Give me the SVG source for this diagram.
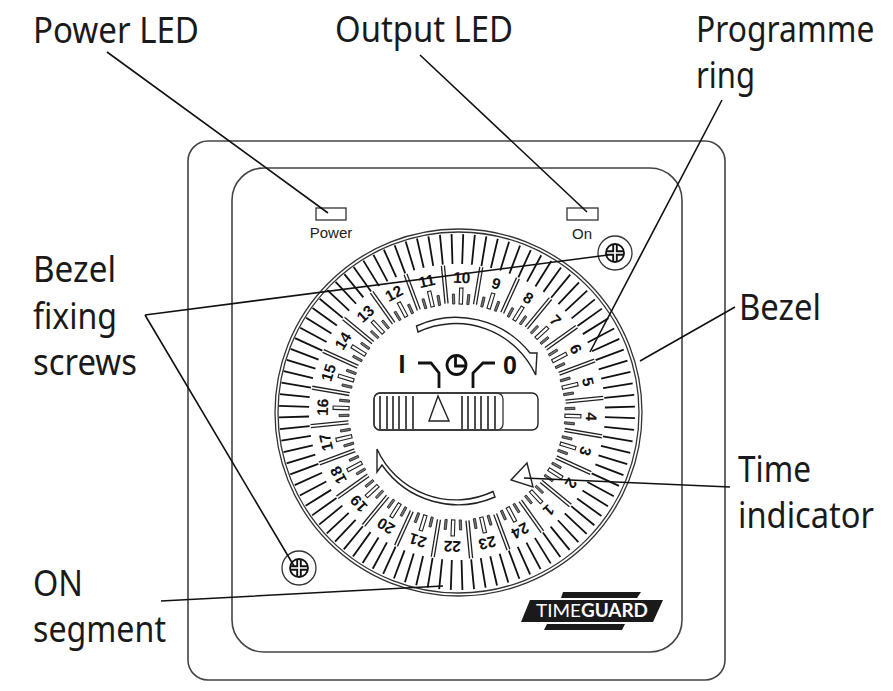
<svg xmlns="http://www.w3.org/2000/svg" width="893" height="691" viewBox="0 0 893 691">
<style>
.lbl{font-family:"Noto Sans","Open Sans","Liberation Sans",sans-serif;font-size:37px;fill:#1a1a1a}
.num{font-family:"Liberation Sans",Arial,sans-serif;font-size:15.5px;font-weight:bold;fill:#111;text-anchor:middle}
.sm{font-family:"Liberation Sans",Arial,sans-serif;font-size:15px;fill:#222;text-anchor:middle}
.o{fill:none;stroke:#333;stroke-width:1.3}
.f{fill:none;stroke:#444;stroke-width:1.6}
.w{fill:#fff;stroke:#222;stroke-width:1.4}
.c{fill:none;stroke:#111;stroke-width:1.6}
.bar{stroke:#222;stroke-width:1.6;fill:none}
.sym{fill:none;stroke:#111;stroke-width:2.8}
.seg{stroke:#111;stroke-width:1.8}
.div{stroke:#222;stroke-width:1.3}
</style>
<defs>
<g id="hour">
<rect x="-1.7" y="-124" width="3.4" height="16" fill="#fff" stroke="#222" stroke-width="1.1"/>
<rect x="-1.1" y="-118" width="2.2" height="10" fill="#777" stroke="#222" stroke-width=".8" transform="rotate(-3.75)"/>
<rect x="-1.1" y="-118" width="2.2" height="10" fill="#777" stroke="#222" stroke-width=".8" transform="rotate(3.75)"/>
<g transform="rotate(7.5)"><line class="div" x1="-1.5" x2="-1.5" y1="-147" y2="-109"/><line class="div" x1="1.5" x2="1.5" y1="-147" y2="-109"/></g>
</g>
<g id="h6"><use href="#hour"/><use href="#hour" transform="rotate(15)"/><use href="#hour" transform="rotate(30)"/><use href="#hour" transform="rotate(45)"/><use href="#hour" transform="rotate(60)"/><use href="#hour" transform="rotate(75)"/></g>
<line id="sg" class="seg" x1="0" x2="0" y1="-148" y2="-178"/>
<g id="s4"><use href="#sg"/><use href="#sg" transform="rotate(3.75)"/><use href="#sg" transform="rotate(7.5)"/><use href="#sg" transform="rotate(11.25)"/></g>
<g id="s24"><use href="#s4"/><use href="#s4" transform="rotate(15)"/><use href="#s4" transform="rotate(30)"/><use href="#s4" transform="rotate(45)"/><use href="#s4" transform="rotate(60)"/><use href="#s4" transform="rotate(75)"/></g>
<g id="screw">
<circle r="17" class="o"/>
<circle r="9" fill="#fff" stroke="#111" stroke-width="1.8"/>
<path d="M-1.8-8.500V-1.800H-8.500M1.800-8.500V-1.800H8.500M-1.800 8.500V1.800H-8.500M1.800 8.500V1.800H8.500" fill="none" stroke="#111" stroke-width="1.9"/>
</g>
</defs>
<rect width="893" height="691" fill="#fff"/>
<g id="frame">
<rect x="188" y="141" width="537" height="539" rx="20" class="f"/>
<rect x="232" y="168" width="450" height="484" rx="32" class="f"/>
</g>
<g id="power-led"><rect x="316" y="208" width="30" height="12" class="o"/><text class="sm" x="331" y="238">Power</text></g>
<g id="output-led"><rect x="567" y="208" width="31" height="12" class="o"/><text class="sm" x="582" y="239">On</text></g>
<g id="screw-top"><use href="#screw" transform="translate(615 253)"/></g>
<g id="screw-bottom"><use href="#screw" transform="translate(299 568)"/></g>
<g id="bezel">
<circle cx="458.500" cy="412.500" r="183.500" class="o"/>
<circle cx="458.500" cy="412.500" r="180.500" class="o"/>
<g transform="translate(457 412) rotate(9.5)"><use href="#s24"/><use href="#s24" transform="rotate(90)"/><use href="#s24" transform="rotate(180)"/><use href="#s24" transform="rotate(270)"/></g>
</g>
<g id="programme-ring">
<g transform="translate(457 412) rotate(2)"><use href="#h6"/><use href="#h6" transform="rotate(90)"/><use href="#h6" transform="rotate(180)"/><use href="#h6" transform="rotate(270)"/></g>
<g id="numbers">
<text class="num" transform="translate(457 412) rotate(2)" y="-129">10</text>
<text class="num" transform="translate(457 412) rotate(17)" y="-129">9</text>
<text class="num" transform="translate(457 412) rotate(32)" y="-129">8</text>
<text class="num" transform="translate(457 412) rotate(47)" y="-129">7</text>
<text class="num" transform="translate(457 412) rotate(62)" y="-129">6</text>
<text class="num" transform="translate(457 412) rotate(77)" y="-129">5</text>
<text class="num" transform="translate(457 412) rotate(92)" y="-129">4</text>
<text class="num" transform="translate(457 412) rotate(107)" y="-129">3</text>
<text class="num" transform="translate(457 412) rotate(122)" y="-129">2</text>
<text class="num" transform="translate(457 412) rotate(137)" y="-129">1</text>
<text class="num" transform="translate(457 412) rotate(152)" y="-129">24</text>
<text class="num" transform="translate(457 412) rotate(167)" y="-129">23</text>
<text class="num" transform="translate(457 412) rotate(182)" y="-129">22</text>
<text class="num" transform="translate(457 412) rotate(197)" y="-129">21</text>
<text class="num" transform="translate(457 412) rotate(212)" y="-129">20</text>
<text class="num" transform="translate(457 412) rotate(227)" y="-129">19</text>
<text class="num" transform="translate(457 412) rotate(242)" y="-129">18</text>
<text class="num" transform="translate(457 412) rotate(257)" y="-129">17</text>
<text class="num" transform="translate(457 412) rotate(272)" y="-129">16</text>
<text class="num" transform="translate(457 412) rotate(287)" y="-129">15</text>
<text class="num" transform="translate(457 412) rotate(302)" y="-129">14</text>
<text class="num" transform="translate(457 412) rotate(317)" y="-129">13</text>
<text class="num" transform="translate(457 412) rotate(332)" y="-129">12</text>
<text class="num" transform="translate(457 412) rotate(347)" y="-129">11</text>
</g>
</g>
<g id="time-indicator"><path d="M527 463L511 480L533 487Z" class="w"/></g>
<g id="dial-arrows">
<path d="M416.500 326A94.600 94.600 0 0 1 530 353L537 353L535.700 375A88 88 0 0 0 418 332Z" class="w"/>
<path d="M377 449L377 472L382 465A92.500 92.500 0 0 0 495 497L493 491.500A86.500 86.500 0 0 1 377 449Z" class="w"/>
</g>
<g id="selector">
<text x="402" y="373" font-family="Liberation Sans,Arial,sans-serif" font-weight="bold" font-size="25" text-anchor="middle" fill="#111">I</text>
<text x="510" y="374" font-family="Liberation Sans,Arial,sans-serif" font-weight="bold" font-size="25" text-anchor="middle" fill="#111">0</text>
<circle cx="456.500" cy="365" r="9.500" class="sym"/>
<path d="M455.500 357V366H465" class="sym"/>
<path d="M418 363H431L439 373V388M495 363H483L473 373V388" class="sym"/>
<rect x="374" y="393" width="164" height="37" rx="6" class="w"/>
<rect x="374" y="393" width="129" height="37" rx="6" class="o"/>
<path class="bar" d="M380 396V429M387 396V429M393 396V429M399 396V429M406 396V429M413 396V429M462 396V429M468 396V429M475 396V429M481 396V429M488 396V429M495 396V429"/>
<path d="M438 396L429 421H449Z" class="w"/>
</g>
<g id="logo">
<path d="M563 592H641L637 598H561Z" fill="#1a1a1a"/>
<path d="M530 600H663L653 622H521Z" fill="#1a1a1a"/>
<path d="M547 624H625L622 630H544Z" fill="#1a1a1a"/>
<text x="536" y="617" font-family="Lato,sans-serif" font-size="18" fill="#fff" textLength="112" lengthAdjust="spacingAndGlyphs">TIME<tspan font-weight="bold">GUARD</tspan></text>
</g>
<g id="connectors">
<path class="c" d="M107 52L328 213M420 55L587 212M722 100L590 352M735 307L640 361M730 487L524 478M145 315L608 255M145 315L294 566M161 601L443 586"/>
</g>
<g id="labels">
<text class="lbl" x="33" y="43" textLength="166" lengthAdjust="spacingAndGlyphs">Power LED</text>
<text class="lbl" x="335" y="42" textLength="178" lengthAdjust="spacingAndGlyphs">Output LED</text>
<text class="lbl" transform="translate(696 42) scale(.86 1)">Programme</text>
<text class="lbl" x="696" y="88" textLength="59" lengthAdjust="spacingAndGlyphs">ring</text>
<text class="lbl" x="33" y="282" textLength="83" lengthAdjust="spacingAndGlyphs">Bezel</text>
<text class="lbl" x="33" y="329" textLength="84" lengthAdjust="spacingAndGlyphs">fixing</text>
<text class="lbl" x="33" y="375" textLength="104" lengthAdjust="spacingAndGlyphs">screws</text>
<text class="lbl" x="739" y="320" textLength="82" lengthAdjust="spacingAndGlyphs">Bezel</text>
<text class="lbl" x="738" y="482" textLength="73" lengthAdjust="spacingAndGlyphs">Time</text>
<text class="lbl" x="738" y="528" textLength="136" lengthAdjust="spacingAndGlyphs">indicator</text>
<text class="lbl" x="33" y="596" textLength="50" lengthAdjust="spacingAndGlyphs">ON</text>
<text class="lbl" x="33" y="642" textLength="133" lengthAdjust="spacingAndGlyphs">segment</text>
</g>
</svg>
